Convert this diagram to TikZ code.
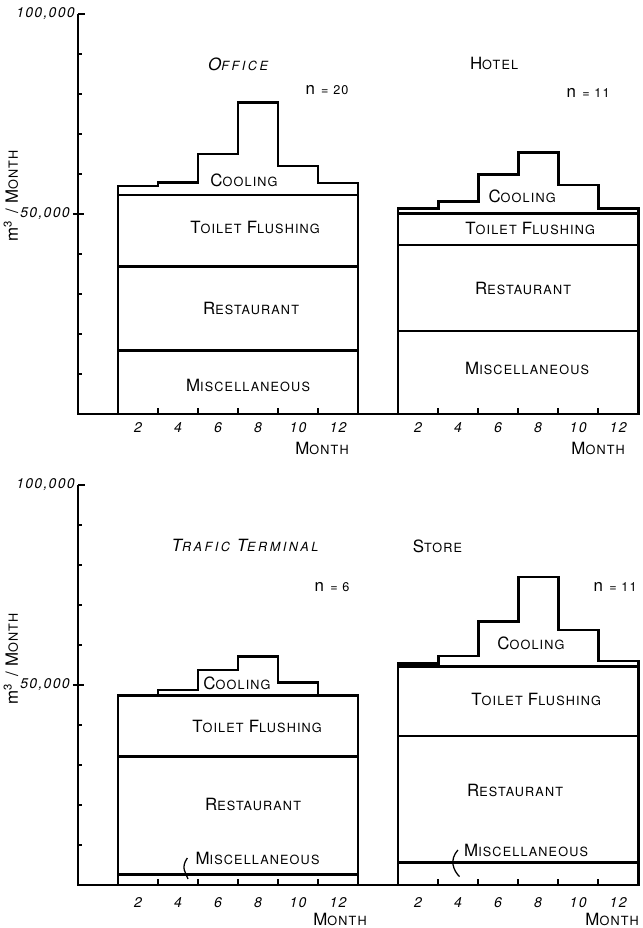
\documentclass[tikz,border=0pt]{standalone}
\usepackage{fontspec}
\usetikzlibrary{positioning}
\newfontfamily\hand[LetterSpace=9]{TeX Gyre Heros}
\newfontfamily\handwide[LetterSpace=20]{TeX Gyre Heros}
\newcommand{\linew}{2pt}
\newcommand{\capsz}{\fontsize{12}{13}\selectfont}
\newcommand{\smsz}{\fontsize{9}{10}\selectfont}
\newcommand{\scw}[2]{{\capsz #1}{\smsz #2}}
\tikzset{
  bar/.style={line width=\linew},
  tick/.style={line width=1.4pt},
  leader/.style={line width=0.9pt},
  lbl/.style={font=\hand, inner sep=0pt},
  widelbl/.style={font=\handwide\itshape, inner sep=0pt},
  num/.style={font=\hand\itshape\fontsize{10}{11}\selectfont, inner sep=0pt},
}

\begin{document}
\begin{tikzpicture}[x=0.025cm, y=-0.025cm]
\useasboundingbox (0,0) rectangle (643,928);
%top row
\begin{scope}[shift={(78,414)}, x=0.5cm, y=0.1cm]
\draw[bar] (0,100) -- (0,0) -- (28.1,0);
\draw[tick] (0,100) -- (0.35,100);
\draw[tick] (0,90) -- (0.2,90);
\draw[tick] (0,80) -- (0.2,80);
\draw[tick] (0,70) -- (0.2,70);
\draw[tick] (0,60) -- (0.2,60);
\draw[tick] (-0.25,50) -- (0.3,50);
\draw[tick] (0,40) -- (0.2,40);
\draw[tick] (0,30) -- (0.2,30);
\draw[tick] (0,20) -- (0.2,20);
\draw[tick] (0,10) -- (0.2,10);
\draw[tick] (4,0) -- (4,1.5);
\draw[tick] (6,0) -- (6,1.5);
\draw[tick] (8,0) -- (8,1.5);
\draw[tick] (10,0) -- (10,1.5);
\draw[tick] (12,0) -- (12,1.5);
\draw[tick] (18,0) -- (18,1.5);
\draw[tick] (20,0) -- (20,1.5);
\draw[tick] (22,0) -- (22,1.5);
\draw[tick] (24,0) -- (24,1.5);
\draw[tick] (26,0) -- (26,1.5);
\node[num, anchor=east] (ty100) at (-0.15,100) {100,000};
\node[num, anchor=east] (ty50) at (-0.4,50) {50,000};
\node[lbl, rotate=90] (tyl) at (-3.35,54.5) {{\capsz m\textsuperscript{3}}\hspace{0.5em}{\capsz /}\hspace{0.4em}\scw{M}{ONTH}};
%office
\draw[bar] (2,0) |- (4,57) |- (6,57.8) |- (8,65) |- (10,77.75) |- (12,62) |- (14,57.75) -- (14,0);
\draw[bar] (2,54.75) -- (14,54.75);
\draw[bar] (2,36.8) -- (14,36.8);
\draw[bar] (2,15.8) -- (14,15.8);
\node[widelbl] (otitle) at (8,87.5) {\scw{O}{FFICE}};
\node[lbl] (on) at (12.45,81) {\capsz n \smsz= 20};
\node[lbl] (ocool) at (8.3,58.5) {\scw{C}{OOLING}};
\node[lbl] (otf) at (8.85,46.5) {\scw{T}{OILET} \scw{F}{LUSHING}};
\node[lbl] (orest) at (8.65,26.5) {\scw{R}{ESTAURANT}};
\node[lbl] (omisc) at (8.5,7.25) {\scw{M}{ISCELLANEOUS}};
\node[num] (om2) at (3,-3.5) {2};
\node[num] (om4) at (5,-3.5) {4};
\node[num] (om6) at (7,-3.5) {6};
\node[num] (om8) at (9,-3.5) {8};
\node[num] (om10) at (11,-3.5) {10};
\node[num] (om12) at (13,-3.5) {12};
\node[lbl] (omonth) at (12.2,-8.5) {\scw{M}{ONTH}};
%hotel
\draw[bar] (16,0) |- (18,51.4) |- (20,53.1) |- (22,59.9) |- (24,65.3) |- (26,57.25) |- (28,51.4) -- (28,0);
\draw[bar] (16,50.2) -- (28,50.2);
\draw[bar] (16,42.25) -- (28,42.25);
\draw[bar] (16,20.75) -- (28,20.75);
\node[lbl] (htitle) at (20.8,87.5) {\scw{H}{OTEL}};
\node[lbl] (hn) at (25.5,80.25) {\capsz n \smsz= 11};
\node[lbl] (hcool) at (22.2,54.3) {\scw{C}{OOLING}};
\node[lbl] (htf) at (22.6,46.25) {\scw{T}{OILET} \scw{F}{LUSHING}};
\node[lbl] (hrest) at (22.25,31.5) {\scw{R}{ESTAURANT}};
\node[lbl] (hmisc) at (22.45,11.5) {\scw{M}{ISCELLANEOUS}};
\node[num] (hm2) at (17,-3.5) {2};
\node[num] (hm4) at (19,-3.5) {4};
\node[num] (hm6) at (21,-3.5) {6};
\node[num] (hm8) at (23,-3.5) {8};
\node[num] (hm10) at (25,-3.5) {10};
\node[num] (hm12) at (27,-3.5) {12};
\node[lbl] (hmonth) at (26,-8.5) {\scw{M}{ONTH}};
\end{scope}
%bottom row
\begin{scope}[shift={(78,885)}, x=0.5cm, y=0.1cm]
\draw[bar] (0,100) -- (0,0) -- (28.1,0);
\draw[tick] (0,100) -- (0.35,100);
\draw[tick] (0,90) -- (0.2,90);
\draw[tick] (0,80) -- (0.2,80);
\draw[tick] (0,70) -- (0.2,70);
\draw[tick] (0,60) -- (0.2,60);
\draw[tick] (-0.25,50) -- (0.3,50);
\draw[tick] (0,40) -- (0.2,40);
\draw[tick] (0,30) -- (0.2,30);
\draw[tick] (0,20) -- (0.2,20);
\draw[tick] (0,10) -- (0.2,10);
\draw[tick] (4,0) -- (4,1.5);
\draw[tick] (6,0) -- (6,1.5);
\draw[tick] (8,0) -- (8,1.5);
\draw[tick] (10,0) -- (10,1.5);
\draw[tick] (12,0) -- (12,1.5);
\draw[tick] (18,0) -- (18,1.5);
\draw[tick] (20,0) -- (20,1.5);
\draw[tick] (22,0) -- (22,1.5);
\draw[tick] (24,0) -- (24,1.5);
\draw[tick] (26,0) -- (26,1.5);
\node[num, anchor=east] (by100) at (-0.15,100) {100,000};
\node[num, anchor=east] (by50) at (-0.4,50) {50,000};
\node[lbl, rotate=90] (byl) at (-3.35,56.5) {{\capsz m\textsuperscript{3}}\hspace{0.5em}{\capsz /}\hspace{0.4em}\scw{M}{ONTH}};
%trafic terminal
\draw[bar] (2,0) |- (4,47.3) |- (6,48.75) |- (8,53.75) |- (10,57.1) |- (12,50.6) |- (14,47.3) -- (14,0);
\draw[bar] (2,47.3) -- (14,47.3);
\draw[bar] (2,32.1) -- (14,32.1);
\draw[bar] (2,2.7) -- (14,2.7);
\node[widelbl] (ttitle) at (8.35,84.75) {\scw{T}{RAFIC} \scw{T}{ERMINAL}};
\node[lbl] (tn) at (12.7,74.5) {\capsz n \smsz= 6};
\node[lbl] (tcool) at (7.95,50.5) {\scw{C}{OOLING}};
\node[lbl] (ttf) at (8.95,39.5) {\scw{T}{OILET} \scw{F}{LUSHING}};
\node[lbl] (trest) at (8.75,20.25) {\scw{R}{ESTAURANT}};
\node[lbl] (tmisc) at (8.975,6.75) {\scw{M}{ISCELLANEOUS}};
\coordinate (tleg) at (5.5,1.5);
\draw[leader] ([xshift=-0.2cm]tmisc.west) .. controls +(-0.35,-2.5) and +(-0.1,1.5) .. (tleg);
\node[num] (tm2) at (3,-4.4) {2};
\node[num] (tm4) at (5,-4.4) {4};
\node[num] (tm6) at (7,-4.4) {6};
\node[num] (tm8) at (9,-4.4) {8};
\node[num] (tm10) at (11,-4.4) {10};
\node[num] (tm12) at (13,-4.4) {12};
\node[lbl] (tmonth) at (13.1,-8.6) {\scw{M}{ONTH}};
%store
\draw[bar] (16,0) |- (18,55.4) |- (20,57.25) |- (22,65.8) |- (24,77) |- (26,63.75) |- (28,56) -- (28,0);
\draw[bar] (16,54.6) -- (28,54.6);
\draw[bar] (16,37.25) -- (28,37.25);
\draw[bar] (16,5.6) -- (28,5.6);
\node[lbl] (stitle) at (17.97,84.75) {\scw{S}{TORE}};
\node[lbl] (sn) at (26.85,74.5) {\capsz n \smsz= 11};
\node[lbl] (scool) at (22.64,60.5) {\scw{C}{OOLING}};
\node[lbl] (stf) at (22.9,46.25) {\scw{T}{OILET} \scw{F}{LUSHING}};
\node[lbl] (srest) at (21.85,23.75) {\scw{R}{ESTAURANT}};
\node[lbl] (smisc) at (22.4,8.75) {\scw{M}{ISCELLANEOUS}};
\coordinate (sleg) at (19.07,2.1);
\draw[leader] ([xshift=-0.15cm]smisc.west) .. controls +(-0.45,-2.5) and +(-0.3,1.5) .. (sleg);
\node[num] (sm2) at (17,-4.4) {2};
\node[num] (sm4) at (19,-4.4) {4};
\node[num] (sm6) at (21,-4.4) {6};
\node[num] (sm8) at (23,-4.4) {8};
\node[num] (sm10) at (25,-4.4) {10};
\node[num] (sm12) at (27,-4.4) {12};
\node[lbl] (smonth) at (26.7,-8.6) {\scw{M}{ONTH}};
\end{scope}
\end{tikzpicture}
\end{document}
